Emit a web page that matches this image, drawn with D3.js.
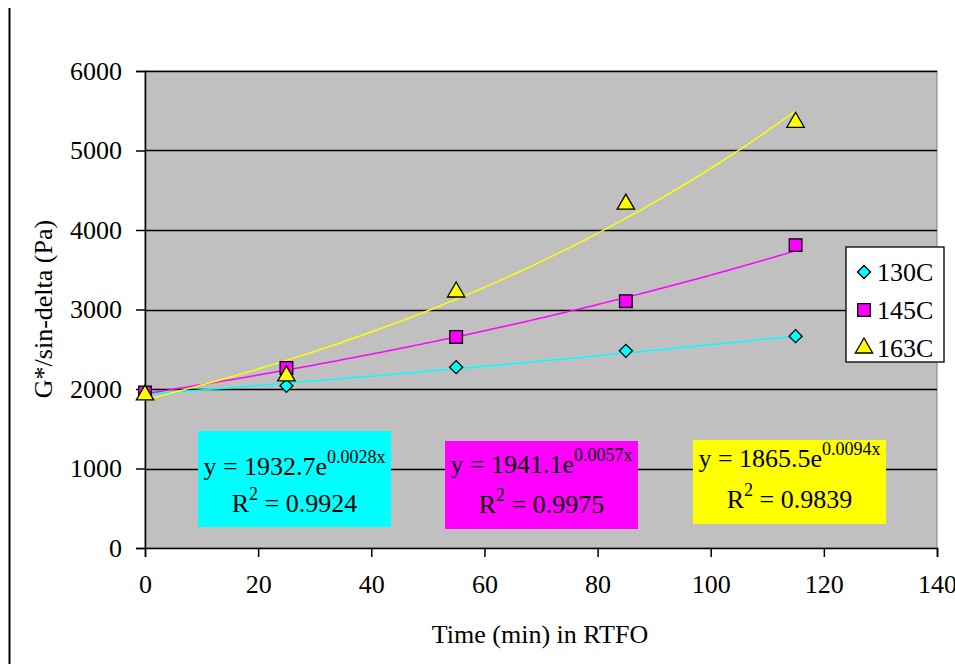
<!DOCTYPE html>
<html>
<head>
<meta charset="utf-8">
<script src="https://cdn.jsdelivr.net/npm/d3@7"></script>
<style>
  body { margin: 0; background: #fff; }
  svg text { font-family: "Liberation Serif", Tinos, "Times New Roman", Times, "DejaVu Serif", serif; fill: #000; }
</style>
</head>
<body>
<div id="chart"></div>
<script>
// data
var times = [0, 25, 55, 85, 115];
var seriesNames = ["130C", "145C", "163C"];
var values130 = [1960, 2040, 2275, 2480, 2665];
var values145 = [1955, 2265, 2655, 3105, 3810];
var values163 = [1925, 2165, 3220, 4325, 5355];
var fitA = [1932.7, 1941.1, 1865.5];
var fitB = [0.0028, 0.0057, 0.0094];
var fitR2 = ["0.9924", "0.9975", "0.9839"];
var xTicks = [0, 20, 40, 60, 80, 100, 120, 140];
var yTicks = [0, 1000, 2000, 3000, 4000, 5000, 6000];

var serif = '"Liberation Serif", Tinos, "Times New Roman", Times, "DejaVu Serif", serif';
var colors = ["#00ffff", "#ff00ff", "#ffff00"];
var symbols = [d3.symbolSquare, d3.symbolSquare, d3.symbolTriangle];
var symSizes = [85, 160, 130];
var symRotate = [45, 0, 0];

var margin = {top: 71, right: 18, bottom: 116, left: 145},
    width = 955 - margin.left - margin.right,
    height = 664 - margin.top - margin.bottom;

var svg = d3.select("#chart").append("svg")
    .attr("width", 955)
    .attr("height", 664)
    .attr("font-family", serif);

// left border line
svg.append("line")
    .attr("x1", 9.5).attr("x2", 9.5)
    .attr("y1", 8).attr("y2", 664)
    .attr("stroke", "#000").attr("stroke-width", 2);

var g = svg.append("g")
    .attr("transform", "translate(" + margin.left + "," + margin.top + ")");

var x = d3.scaleLinear().domain([0, 140]).range([0, width]);
var y = d3.scaleLinear().domain([0, 6000]).range([height, 0]);

g.append("rect")
    .attr("width", width).attr("height", height)
    .attr("fill", "#c0c0c0")
    .attr("stroke", "#808080");

// gridlines
g.selectAll(".grid")
    .data(yTicks.slice(1))
    .enter().append("line")
    .attr("x1", 0).attr("x2", width)
    .attr("y1", function(d) { return Math.round(y(d)) + 0.5; })
    .attr("y2", function(d) { return Math.round(y(d)) + 0.5; })
    .attr("stroke", "#000").attr("stroke-width", 1.5);

var xAxis = d3.axisBottom(x).tickValues(xTicks).tickFormat(d3.format("d")).tickSize(9).tickPadding(18);
var yAxis = d3.axisLeft(y).tickValues(yTicks).tickFormat(d3.format("d")).tickSize(9).tickPadding(14);

var gx = g.append("g")
    .attr("transform", "translate(0," + height + ")")
    .call(xAxis);
var gy = g.append("g").call(yAxis);

[gx, gy].forEach(function(a) {
  a.attr("font-family", serif).attr("font-size", 26);
  a.select(".domain").attr("stroke", "#000").attr("stroke-width", 1.5);
  a.selectAll(".tick line").attr("stroke", "#000").attr("stroke-width", 1.5);
});

// axis titles
svg.append("text")
    .attr("x", 540)
    .attr("y", 643)
    .attr("text-anchor", "middle")
    .style("font-size", "26px")
    .text("Time (min) in RTFO");

svg.append("text")
    .attr("transform", "translate(52,309) rotate(-90)")
    .attr("text-anchor", "middle")
    .style("font-size", "26px")
    .text("G*/sin-delta (Pa)");

var allValues = [values130, values145, values163];

// trendlines from the displayed equations
var line = d3.line()
    .x(function(d) { return x(d[0]); })
    .y(function(d) { return y(d[1]); });

allValues.forEach(function(vals, i) {
  var pts = d3.range(0, 115.5, 1).map(function(t) {
    return [t, fitA[i] * Math.exp(fitB[i] * t)];
  });
  g.append("path")
      .datum(pts)
      .attr("fill", "none")
      .attr("stroke", colors[i])
      .attr("stroke-width", 1.5)
      .attr("d", line);
});

// markers
allValues.forEach(function(vals, i) {
  g.selectAll(".m" + i)
      .data(vals)
      .enter().append("path")
      .attr("transform", function(d, j) {
        return "translate(" + x(times[j]) + "," + y(d) + ") rotate(" + symRotate[i] + ")";
      })
      .attr("d", d3.symbol().type(symbols[i]).size(symSizes[i]))
      .attr("fill", colors[i])
      .attr("stroke", "#000")
      .attr("stroke-width", 1.3);
});

// equation boxes
var boxes = [
  {x: 198, y: 431, w: 193, h: 96, l1: 44, l2: 81},
  {x: 445, y: 441, w: 193, h: 88, l1: 32, l2: 72},
  {x: 693, y: 440, w: 193, h: 84, l1: 27, l2: 68}
];
boxes.forEach(function(b, i) {
  var bg = svg.append("g");
  bg.append("rect")
      .attr("x", b.x).attr("y", b.y)
      .attr("width", b.w).attr("height", b.h)
      .attr("fill", colors[i]);
  var t1 = bg.append("text")
      .attr("x", b.x + b.w / 2)
      .attr("y", b.y + b.l1)
      .attr("text-anchor", "middle")
      .style("font-size", "26px");
  t1.append("tspan").text("y = " + fitA[i].toFixed(1) + "e");
  t1.append("tspan").attr("dy", -12).style("font-size", "18px").text(fitB[i].toFixed(4) + "x");
  var t2 = bg.append("text")
      .attr("x", b.x + b.w / 2)
      .attr("y", b.y + b.l2)
      .attr("text-anchor", "middle")
      .style("font-size", "26px");
  t2.append("tspan").text("R");
  t2.append("tspan").attr("dy", -12).style("font-size", "18px").text("2");
  t2.append("tspan").attr("dy", 12).text(" = " + fitR2[i]);
});

// legend
var legend = svg.append("g").attr("transform", "translate(846,247)");
legend.append("rect")
    .attr("width", 98).attr("height", 115)
    .attr("fill", "#fff").attr("stroke", "#000").attr("stroke-width", 1.3);
seriesNames.forEach(function(name, i) {
  var ly = 25 + i * 38;
  legend.append("path")
      .attr("transform", "translate(18," + ly + ") rotate(" + symRotate[i] + ")")
      .attr("d", d3.symbol().type(symbols[i]).size(symSizes[i]))
      .attr("fill", colors[i])
      .attr("stroke", "#000")
      .attr("stroke-width", 1.3);
  legend.append("text")
      .attr("x", 31).attr("y", ly + 9)
      .style("font-size", "26px")
      .text(name);
});
</script>
</body>
</html>
